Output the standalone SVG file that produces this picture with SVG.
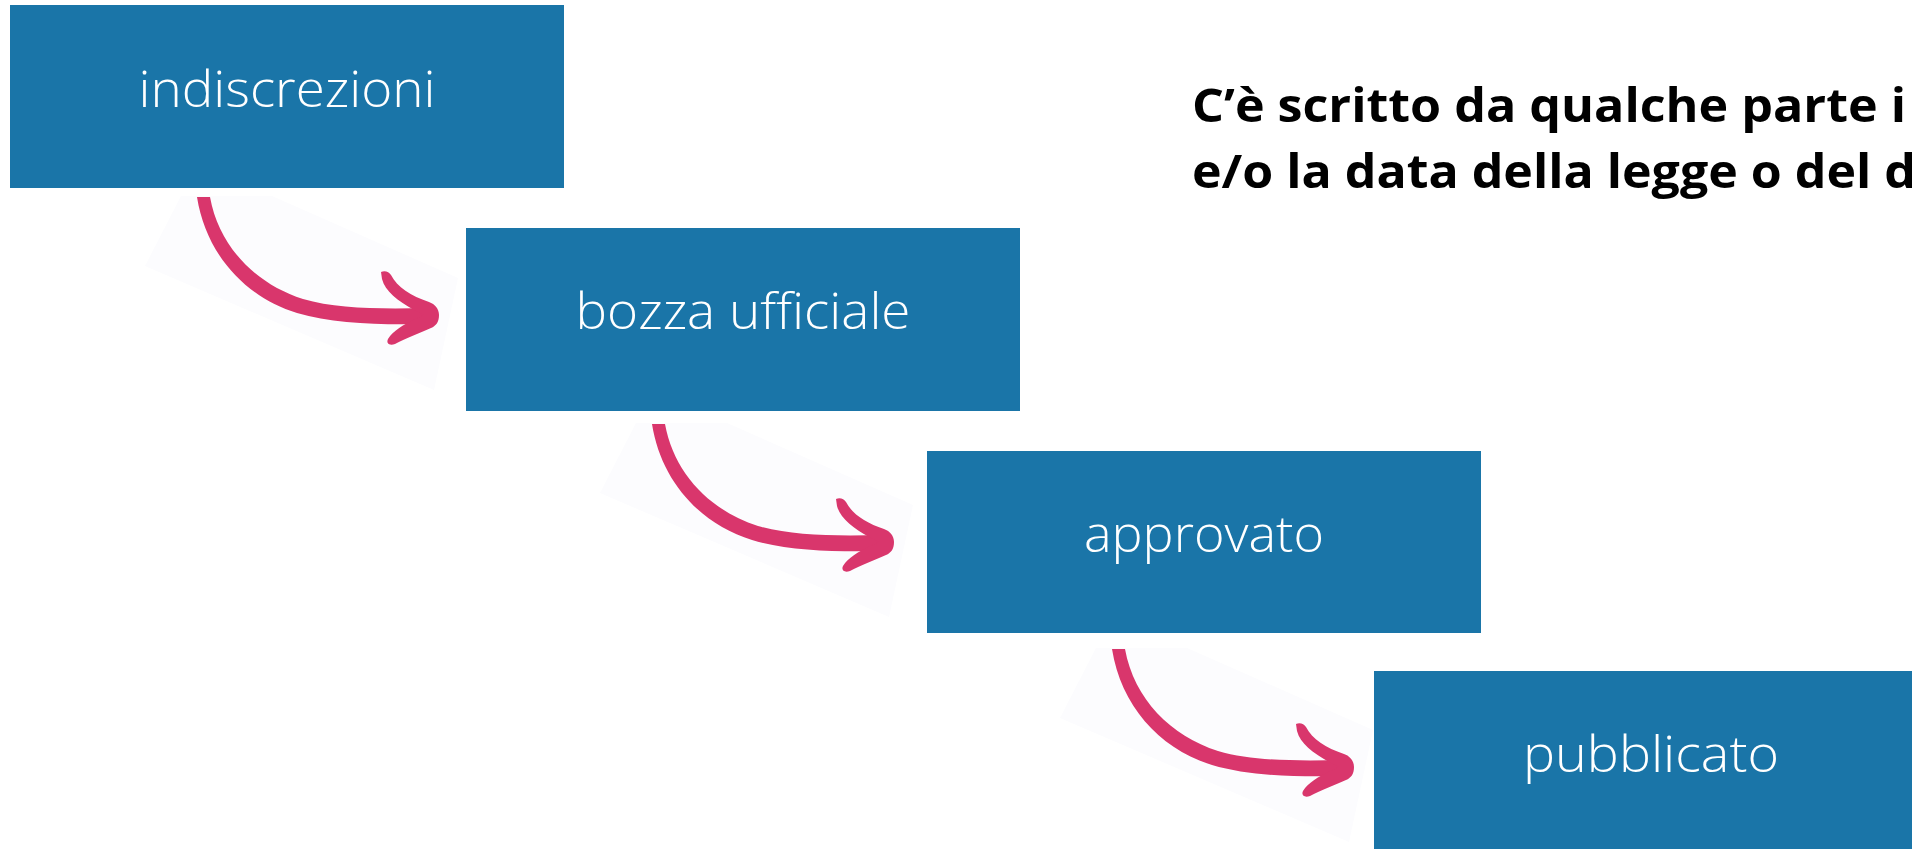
<svg xmlns="http://www.w3.org/2000/svg" xmlns:xlink="http://www.w3.org/1999/xlink" width="1912" height="849" viewBox="0 0 1912 849">
  <style>
    .box { fill: #1a75a8; }
    .lbl { fill: #ffffff; font-family: "Open Sans", "Lato", "Liberation Sans", sans-serif; font-weight: 300; font-size: 50px; text-anchor: middle; }
    .title { fill: #000000; font-family: "Open Sans", "Liberation Sans", sans-serif; font-weight: 700; font-size: 47px; }
    .ink { fill: #d9366c; }
    .shade { fill: #fcfcfe; }
  </style>
  <defs>
    <g id="arrow">
      <polygon class="shade" points="145,266 181,196 272,196 458,278 434,390"/>
      <path class="ink" d="M197,197 C206,254 245,297 297,313 C334,324 380,325 430,324 L430,308 C380,309 337,309 303,299 C256,284 219,247 210,197 Z"/>
      <path class="ink" d="M381,272 C385,270 389,272 391,275 C397,287 411,296 429,302 C435,304 439,309 439,315 C439,322 436,326 431,328 C419,333 405,339 395,344 C389,346 386,343 388,339 C393,331 403,325 415,319 L424,315 L414,310 C398,301 385,291 382,279 Z"/>
    </g>
  </defs>

  <rect width="1912" height="849" fill="#ffffff"/>

  <g id="connectors">
    <use xlink:href="#arrow" href="#arrow"/>
    <use xlink:href="#arrow" href="#arrow" transform="translate(455,227)"/>
    <use xlink:href="#arrow" href="#arrow" transform="translate(915,452)"/>
  </g>

  <g id="node-indiscrezioni">
    <rect class="box" x="10" y="5" width="554" height="183"/>
    <text class="lbl" x="287" y="107" textLength="297" lengthAdjust="spacingAndGlyphs">indiscrezioni</text>
  </g>

  <g id="node-bozza">
    <rect class="box" x="466" y="228" width="554" height="183"/>
    <text class="lbl" x="743" y="329" textLength="335" lengthAdjust="spacingAndGlyphs">bozza ufficiale</text>
  </g>

  <g id="node-approvato">
    <rect class="box" x="927" y="451" width="554" height="182"/>
    <text class="lbl" x="1204" y="552" textLength="240" lengthAdjust="spacingAndGlyphs">approvato</text>
  </g>

  <g id="node-pubblicato">
    <rect class="box" x="1374" y="671" width="554" height="183"/>
    <text class="lbl" x="1651" y="772" textLength="256" lengthAdjust="spacingAndGlyphs">pubblicato</text>
  </g>

  <g id="title">
    <text class="title" x="1192" y="122" textLength="714" lengthAdjust="spacingAndGlyphs">C’è scritto da qualche parte i</text>
    <text class="title" x="1192" y="188" textLength="724" lengthAdjust="spacingAndGlyphs">e/o la data della legge o del d</text>
  </g>
</svg>
